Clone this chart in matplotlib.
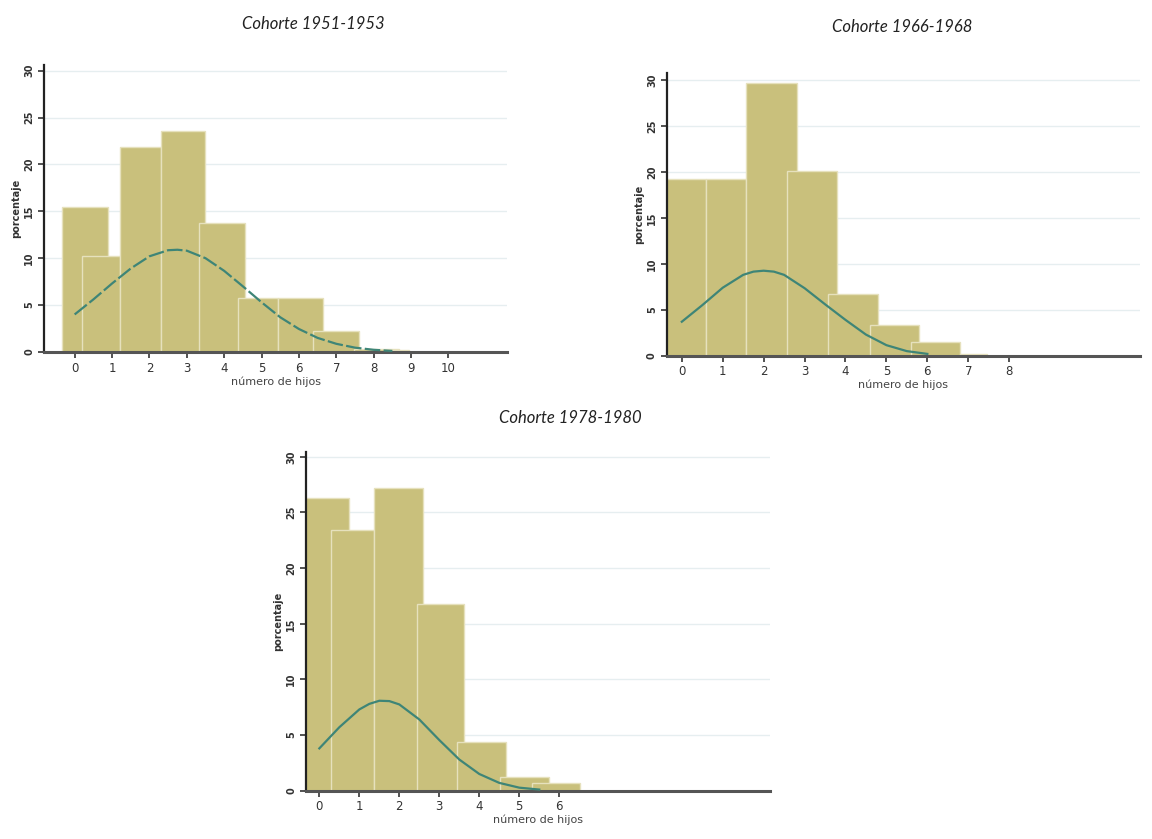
import matplotlib
matplotlib.use("Agg")
import matplotlib.pyplot as plt

# cohorte 1951-1953: bars (left edge, right edge, percent)
c1_left = [-0.33, 0.20, 1.22, 2.30, 3.33, 4.36, 5.45, 6.39, 7.47, 8.45]
c1_right = [0.88, 1.22, 2.30, 3.48, 4.55, 5.45, 6.65, 7.60, 8.67, 8.95]
c1_pct = [15.5, 10.2, 21.9, 23.6, 13.8, 5.8, 5.8, 2.2, 0.3, 0.2]
c1_curve_x = [0, 0.5, 1.0, 1.5, 2.0, 2.5, 2.75, 3.0, 3.5, 4.0, 4.5, 5.0, 5.5, 6.0, 6.5, 7.0, 7.5, 8.0, 8.5]
c1_curve_y = [4.0, 5.6, 7.3, 8.9, 10.2, 10.85, 10.9, 10.8, 10.0, 8.65, 7.0, 5.3, 3.7, 2.45, 1.5, 0.87, 0.46, 0.23, 0.11]
c1_ticks = [0, 1, 2, 3, 4, 5, 6, 7, 8, 9, 10]

# cohorte 1966-1968
c2_left = [-0.40, 0.59, 1.57, 2.56, 3.58, 4.60, 5.59, 6.80]
c2_right = [0.59, 1.57, 2.81, 3.80, 4.79, 5.80, 6.80, 7.45]
c2_pct = [19.2, 19.2, 29.7, 20.1, 6.7, 3.35, 1.45, 0.15]
c2_curve_x = [0, 0.5, 1.0, 1.5, 1.75, 2.0, 2.25, 2.5, 3.0, 3.5, 4.0, 4.5, 5.0, 5.5, 6.0]
c2_curve_y = [3.7, 5.5, 7.4, 8.8, 9.15, 9.25, 9.15, 8.8, 7.35, 5.6, 3.9, 2.3, 1.15, 0.5, 0.2]
c2_ticks = [0, 1, 2, 3, 4, 5, 6, 7, 8]

# cohorte 1978-1980
c3_left = [-0.40, 0.29, 1.37, 2.43, 3.45, 4.52, 5.33]
c3_right = [0.74, 1.37, 2.60, 3.62, 4.68, 5.74, 6.52]
c3_pct = [26.3, 23.4, 27.2, 16.8, 4.35, 1.2, 0.65]
c3_curve_x = [0, 0.5, 1.0, 1.25, 1.5, 1.75, 2.0, 2.5, 3.0, 3.5, 4.0, 4.5, 5.0, 5.5]
c3_curve_y = [3.8, 5.7, 7.3, 7.8, 8.08, 8.05, 7.75, 6.4, 4.55, 2.8, 1.5, 0.7, 0.27, 0.1]
c3_ticks = [0, 1, 2, 3, 4, 5, 6]

titles = ["Cohorte 1951-1953", "Cohorte 1966-1968", "Cohorte 1978-1980"]

fill = "#c9c07c"
edge = "#e6e1bd"
curve = "#3e8577"

fig = plt.figure(figsize=(11.52, 8.39), dpi=100)


def panel(rect, left, right, pct, cx, cy, ticks, xlim, ylim_top, title, title_xy, dashed=False):
    ax = fig.add_axes(rect)
    for y in [5, 10, 15, 20, 25, 30]:
        ax.axhline(y, color="#e6eef0", lw=1.0, zorder=0)
    for l, r, p in zip(left, right, pct):
        ax.bar(l, p, width=r - l, align="edge", color=fill, edgecolor=edge,
               linewidth=1.0, zorder=2)
    ls = (0, (7, 1.5)) if dashed else "-"
    ax.plot(cx, cy, color=curve, lw=1.6, ls=ls, zorder=3, solid_joinstyle="round")
    ax.set_xlim(*xlim)
    ax.set_ylim(0, ylim_top)
    ax.set_xticks(ticks)
    ax.set_xticklabels([str(t) for t in ticks], fontsize=8.5, color="#333333")
    ax.set_yticks([0, 5, 10, 15, 20, 25, 30])
    ax.set_yticklabels(["0", "5", "10", "15", "20", "25", "30"], fontsize=7,
                       rotation=90, va="center", color="#333333", fontweight="bold")
    ax.tick_params(axis="both", length=4, width=1.2, color="#333333", pad=3)
    for s in ["top", "right"]:
        ax.spines[s].set_visible(False)
    ax.spines["left"].set_linewidth(1.6)
    ax.spines["left"].set_color("#222222")
    ax.spines["bottom"].set_linewidth(2.2)
    ax.spines["bottom"].set_color("#555555")
    ax.set_xlabel("número de hijos", fontsize=8, color="#444444", labelpad=1)
    ax.set_ylabel("porcentaje", fontsize=7, color="#333333", fontweight="bold", labelpad=2)
    fig.text(title_xy[0], title_xy[1], title, fontsize=12, family="Lato",
             style="italic", color="#222222", ha="center", va="center")
    return ax


panel([0.0382, 0.5805, 0.402, 0.342], c1_left, c1_right, c1_pct, c1_curve_x, c1_curve_y,
      c1_ticks, (-0.82, 11.57), 30.6, titles[0], (313 / 1152, 1 - 24 / 839), dashed=True)
panel([0.5787, 0.576, 0.411, 0.337], c2_left, c2_right, c2_pct, c2_curve_x, c2_curve_y,
      c2_ticks, (-0.37, 11.2), 30.76, titles[1], (902 / 1152, 1 - 27 / 839))
panel([0.2654, 0.0576, 0.403, 0.404], c3_left, c3_right, c3_pct, c3_curve_x, c3_curve_y,
      c3_ticks, (-0.34, 11.27), 30.46, titles[2], (570 / 1152, 1 - 418 / 839))

fig.savefig("out.png", dpi=100)
